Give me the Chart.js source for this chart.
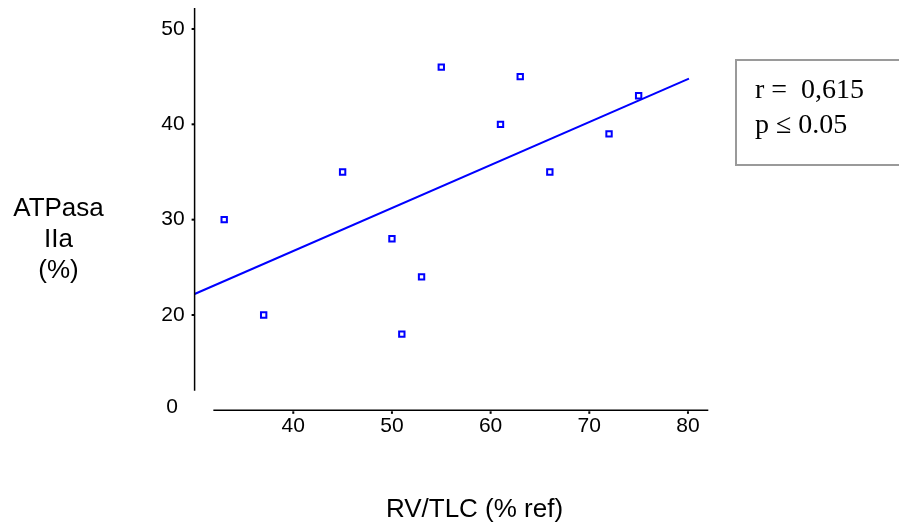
<!doctype html>
<html lang="es">
<head>
  <meta charset="utf-8">
  <title>ATPasa IIa vs RV/TLC</title>
  <style>
    * { margin: 0; padding: 0; }
    body { background: #fff; }
    .chart-container { position: relative; width: 899px; height: 529px; }
  </style>
</head>
<body>
  <div class="chart-container">
    <canvas id="myChart" width="899" height="529"></canvas>
  </div>

  <script src="https://cdn.jsdelivr.net/npm/chart.js"></script>
  <script>
    // RV/TLC (% ref) y ATPasa IIa (%)
    const rvTlc = [33, 37, 45, 50, 51, 53, 55, 61, 63, 66, 72, 75];
    const atpasa = [30, 20, 35, 28, 18, 24, 46, 40, 45, 35, 39, 43];
    // recta de regresion (extremos)
    const fitX = [30, 80.1];
    const fitY = [22.2, 44.8];
    const xTicks = [40, 50, 60, 70, 80];
    const yTicks = [20, 30, 40, 50];

    const blue = '#0000ff';
    const sans = '"Liberation Sans", Arial, sans-serif';
    const serif = '"Liberation Serif", "Times New Roman", serif';

    // sin relleno extra alrededor de las escalas
    function noPad(scale) {
      scale.paddingTop = 0;
      scale.paddingBottom = 0;
      scale.paddingLeft = 0;
      scale.paddingRight = 0;
    }

    // ejes partidos, titulos y cuadro de texto
    const decor = {
      id: 'decor',
      afterDraw(chart) {
        const ctx = chart.ctx;
        const a = chart.chartArea;
        const xs = chart.scales.x;
        const ys = chart.scales.y;
        ctx.save();
        ctx.fillStyle = '#000';
        ctx.strokeStyle = '#000';
        ctx.lineWidth = 1.5;

        // eje y
        ctx.beginPath();
        ctx.moveTo(a.left, a.top);
        ctx.lineTo(a.left, a.bottom);
        ctx.stroke();
        yTicks.forEach(v => {
          ctx.fillRect(a.left - 3, ys.getPixelForValue(v) - 1, 3, 2);
        });

        // eje x (separado del eje y)
        const xAxisY = a.bottom + 19.6;
        ctx.beginPath();
        ctx.moveTo(xs.getPixelForValue(31.9), xAxisY);
        ctx.lineTo(a.right, xAxisY);
        ctx.stroke();
        xTicks.forEach(v => {
          ctx.fillRect(xs.getPixelForValue(v) - 1, xAxisY + 1, 2, 2.5);
        });

        ctx.font = '21px ' + sans;
        ctx.textAlign = 'center';
        ctx.textBaseline = 'middle';
        ctx.fillText('0', 172, 407);

        // titulos
        ctx.font = '26px ' + sans;
        ctx.textBaseline = 'alphabetic';
        ctx.fillText('ATPasa', 58.5, 216);
        ctx.fillText('IIa', 58.5, 247);
        ctx.fillText('(%)', 58.5, 278);
        ctx.fillText('RV/TLC (% ref)', 474.5, 516.7);

        // cuadro r / p
        ctx.strokeStyle = '#9a9a9a';
        ctx.lineWidth = 2;
        ctx.strokeRect(736, 60, 180, 105);
        ctx.font = '28px ' + serif;
        ctx.textAlign = 'left';
        ctx.fillText('r =  0,615', 755, 98);
        ctx.fillText('p \u2264 0.05', 755, 132.5);
        ctx.restore();
      }
    };

    const data = {
      datasets: [
        {
          type: 'line',
          data: fitX.map((x, i) => ({ x: x, y: fitY[i] })),
          borderColor: blue,
          borderWidth: 2,
          pointRadius: 0,
          fill: false,
          clip: false
        },
        {
          type: 'scatter',
          data: rvTlc.map((x, i) => ({ x: x, y: atpasa[i] })),
          pointStyle: 'rect',
          pointRadius: 3.8,
          borderWidth: 2,
          borderColor: blue,
          backgroundColor: '#fff',
          clip: false
        }
      ]
    };

    const config = {
      type: 'scatter',
      data,
      plugins: [decor],
      options: {
        responsive: false,
        animation: false,
        layout: {
          padding: { top: 8, right: 190.7, left: 0, bottom: 0 }
        },
        plugins: {
          legend: { display: false },
          tooltip: { enabled: false }
        },
        scales: {
          x: {
            type: 'linear',
            min: 30,
            max: 82.06,
            afterFit(scale) { scale.height = 138.3; noPad(scale); },
            afterBuildTicks(scale) { scale.ticks = xTicks.map(v => ({ value: v })); },
            border: { display: false },
            grid: { display: false, drawTicks: false },
            ticks: {
              padding: 23,
              color: '#000',
              font: { family: sans, size: 21 }
            }
          },
          y: {
            type: 'linear',
            min: 12.06,
            max: 52.2,
            afterFit(scale) { scale.width = 194.6; noPad(scale); },
            afterBuildTicks(scale) { scale.ticks = yTicks.map(v => ({ value: v })); },
            border: { display: false },
            grid: { display: false, drawTicks: false },
            ticks: {
              padding: 10,
              color: '#000',
              font: { family: sans, size: 21 }
            }
          }
        }
      }
    };

    const myChart = new Chart(document.getElementById('myChart'), config);
  </script>
</body>
</html>
